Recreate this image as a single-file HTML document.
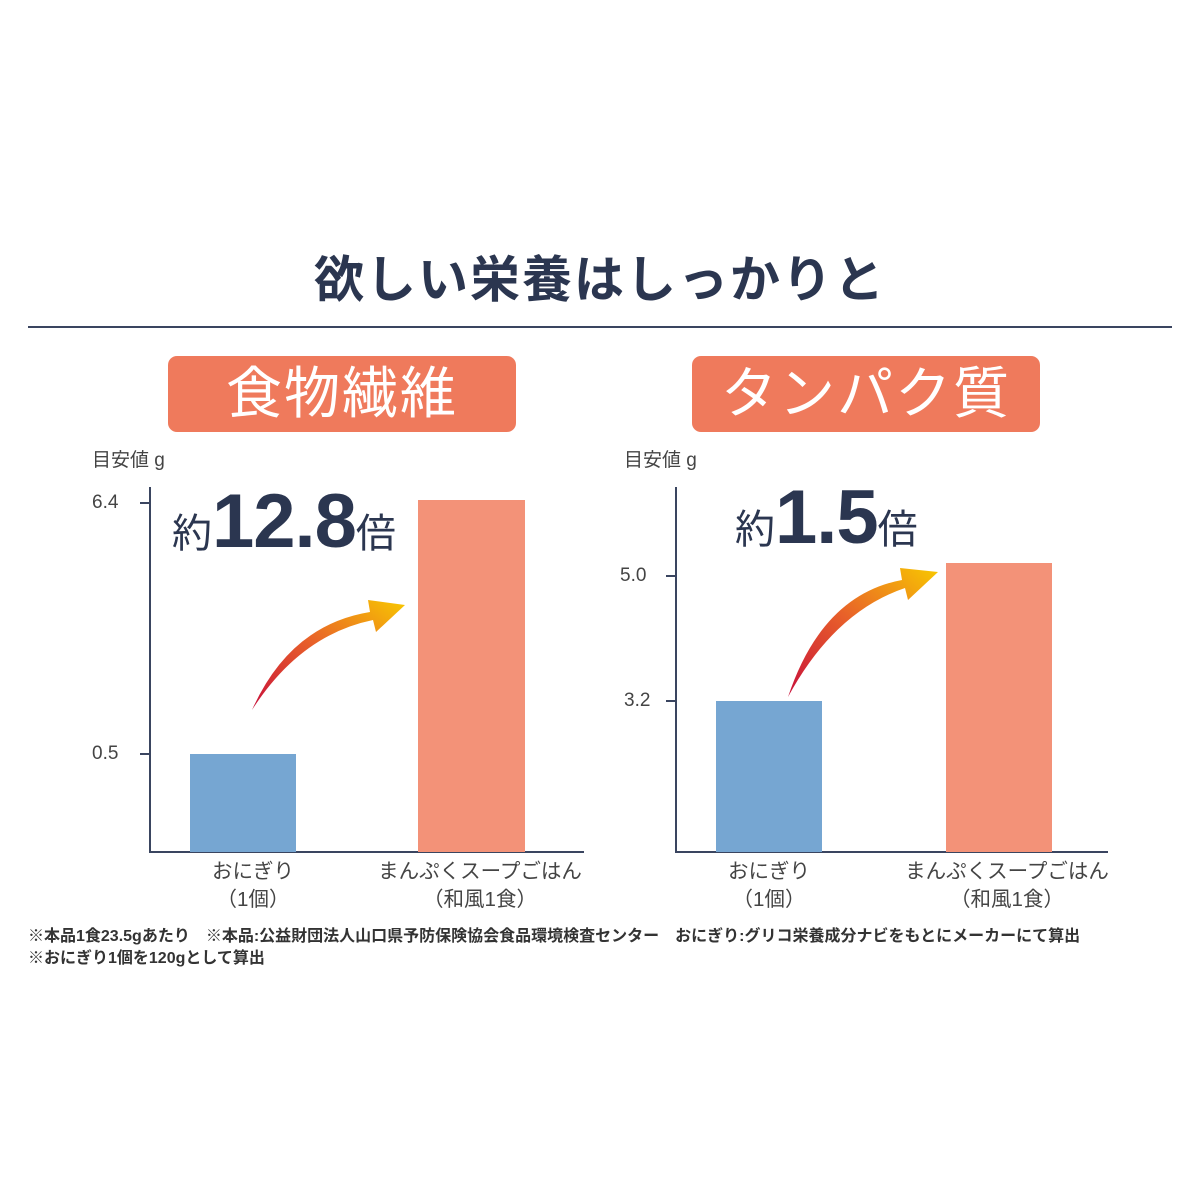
<!DOCTYPE html>
<html><head><meta charset="utf-8"><style>
body{margin:0;background:#fff;}
#c{position:relative;width:1200px;height:1200px;overflow:hidden;font-family:"Liberation Sans","Noto Sans CJK JP",sans-serif;color:#2b3650;}
.a{position:absolute;white-space:nowrap;}
.box{position:absolute;background:#ef7a5c;border-radius:9px;color:#fff;font-size:56px;text-align:center;line-height:76px;letter-spacing:2px;}
.tk{font-size:19px;color:#444;}
.lb{font-size:20.5px;color:#444;text-align:center;width:260px;line-height:28px;}
.ft{font-size:16px;color:#333;font-weight:bold;}
</style></head><body><div id="c">
<div class="a" style="left:0;width:1200px;text-align:center;top:240px;font-size:50px;font-weight:bold;letter-spacing:2px;">欲しい栄養はしっかりと</div>
<div class="a" style="left:28px;top:326px;width:1144px;height:2px;background:#3a4560"></div>
<div class="box" style="left:168px;top:356px;width:348px;height:76px;">食物繊維</div>
<div class="box" style="left:692px;top:356px;width:348px;height:76px;">タンパク質</div>
<div class="a tk" style="left:92px;top:445px;">目安値 g</div>
<div class="a tk" style="left:624px;top:445px;">目安値 g</div>
<svg class="a" style="left:0;top:0" width="1200" height="1200">
<defs>
<linearGradient id="g1" x1="0" y1="1" x2="1" y2="0"><stop offset="0" stop-color="#c8103a"/><stop offset="0.5" stop-color="#e8602a"/><stop offset="1" stop-color="#f8c800"/></linearGradient>
</defs>
<g stroke="#3a4560" stroke-width="2" fill="none">
<path d="M150 487V852H584"/><path d="M140 503H150M140 754H150"/>
<path d="M676 487V852H1108"/><path d="M666 576H676M666 701H676"/>
</g>
<rect x="190" y="754" width="106" height="98" fill="#76a6d2"/>
<rect x="418" y="500" width="107" height="352" fill="#f39278"/>
<rect x="716" y="701" width="106" height="151" fill="#76a6d2"/>
<rect x="946" y="563" width="106" height="289" fill="#f39278"/>
<path d="M252 710 Q290 625 370 612 L368 600 L405 605 L376 632 L373 620 Q300 635 252 710Z" fill="url(#g1)"/>
<path d="M788 697 Q822 595 902 580 L900 568 L938 572 L908 600 L905 588 Q834 612 788 697Z" fill="url(#g1)"/>
</svg>
<div class="a tk" style="left:92px;top:492px;">6.4</div>
<div class="a tk" style="left:92px;top:743px;">0.5</div>
<div class="a tk" style="left:620px;top:565px;">5.0</div>
<div class="a tk" style="left:624px;top:690px;">3.2</div>
<div class="a" style="left:172px;top:478px;"><span style="font-size:40px;">約</span><span style="font-size:76px;font-weight:bold;letter-spacing:-1px;">12.8</span><span style="font-size:40px;">倍</span></div>
<div class="a" style="left:735px;top:474px;"><span style="font-size:40px;">約</span><span style="font-size:76px;font-weight:bold;letter-spacing:-1px;">1.5</span><span style="font-size:40px;">倍</span></div>
<div class="a lb" style="left:123px;top:858px;">おにぎり<br>（1個）</div>
<div class="a lb" style="left:350px;top:858px;">まんぷくスープごはん<br>（和風1食）</div>
<div class="a lb" style="left:639px;top:858px;">おにぎり<br>（1個）</div>
<div class="a lb" style="left:877px;top:858px;">まんぷくスープごはん<br>（和風1食）</div>
<div class="a ft" style="left:28px;top:922px;">※本品1食23.5gあたり　※本品:公益財団法人山口県予防保険協会食品環境検査センター　おにぎり:グリコ栄養成分ナビをもとにメーカーにて算出</div>
<div class="a ft" style="left:28px;top:944px;">※おにぎり1個を120gとして算出</div>
</div></body></html>
